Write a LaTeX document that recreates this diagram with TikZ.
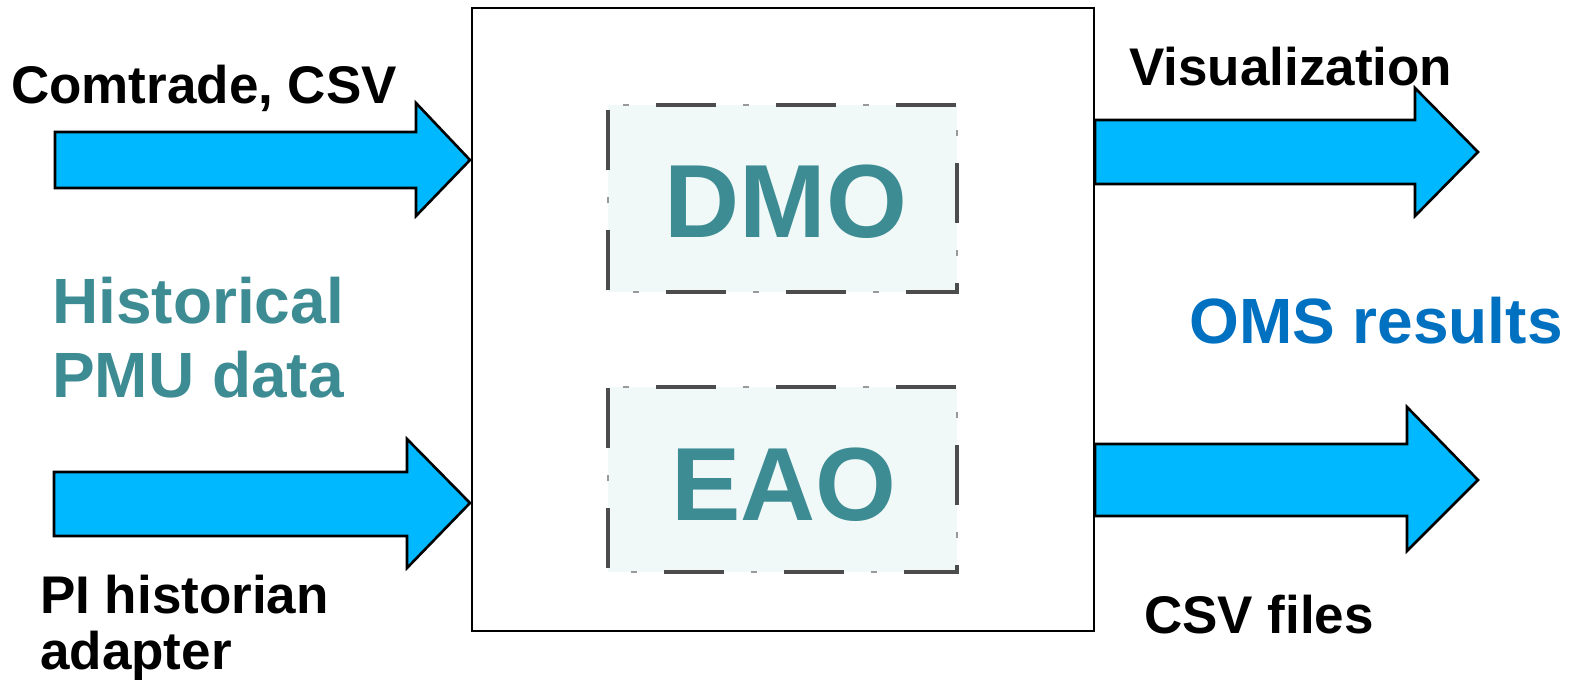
\documentclass[tikz,border=0pt]{standalone}
\usepackage{fontspec}
\setmainfont{Liberation Sans}
\definecolor{arrowblue}{RGB}{0,184,255}
\definecolor{tealtxt}{RGB}{61,140,147}
\definecolor{omsblue}{RGB}{0,112,192}
\definecolor{boxfill}{RGB}{240,248,248}
\tikzset{
  blockarrow/.style={fill=arrowblue, draw=black, line width=2.6pt, line join=miter},
  lbl/.style={anchor=base west, inner sep=0pt, font=\bfseries\fontsize{53}{56}\selectfont},
  bigtxt/.style={anchor=base, inner sep=0pt, text=tealtxt, font=\bfseries\fontsize{104}{110}\selectfont},
  midtxt/.style={anchor=base west, inner sep=0pt, font=\bfseries\fontsize{64}{74}\selectfont},
  algbox/.style={fill=boxfill, draw=none},
  longdash/.style={draw=black!70, line width=4pt, dash pattern=on 60pt off 60pt, dash phase=72pt},
  shortdash/.style={draw=black!40, line width=2pt, dash pattern=on 6pt off 114pt, dash phase=105pt}
}
\begin{document}
\begin{tikzpicture}[x=1pt,y=-1pt]
\useasboundingbox (0,0) rectangle (1575,686);
% main box
\node[draw=black, line width=2pt, minimum width=622pt, minimum height=623pt, inner sep=0pt] (main) at (782.5,319.5) {};
% algorithm boxes
\node[algbox, minimum width=349pt, minimum height=187pt, inner sep=0pt] (dmo) at (782.5,198.5) {};
\node[algbox, minimum width=349pt, minimum height=185pt, inner sep=0pt] (eao) at (782.5,479.5) {};
\foreach \b in {dmo,eao}{
  \draw[longdash] (\b.north west) -- (\b.north east) -- (\b.south east) -- (\b.south west) -- cycle;
  \draw[shortdash] (\b.north west) -- (\b.north east) -- (\b.south east) -- (\b.south west) -- cycle;
}
\node[bigtxt] (dmot) at (786,237) {DMO};
\node[bigtxt] (eaot) at (784,520) {EAO};
% block arrows
\draw[blockarrow] (55,132) -- (416,132) -- (416,103) -- (470,160) -- (416,216) -- (416,188) -- (55,188) -- cycle;
\draw[blockarrow] (54,472) -- (407,472) -- (407,439) -- (470,503) -- (407,568) -- (407,536) -- (54,536) -- cycle;
\draw[blockarrow] (1095,120) -- (1415,120) -- (1415,88) -- (1478,152) -- (1415,216) -- (1415,184) -- (1095,184) -- cycle;
\draw[blockarrow] (1095,444) -- (1407,444) -- (1407,407) -- (1478,480) -- (1407,551) -- (1407,516) -- (1095,516) -- cycle;
% labels
\node[lbl] (comtrade) at (11,103) {Comtrade, CSV};
\node[lbl] (visu) at (1129,85) {Visualization};
\node[lbl] (csvf) at (1144,633) {CSV files};
\node[lbl] (pi) at (40,613) {PI historian};
\node[lbl] (adapter) at (40,669) {adapter};
\node[midtxt, text=tealtxt] (hist) at (52,323) {Historical};
\node[midtxt, text=tealtxt] (pmu) at (52,397) {PMU data};
\node[midtxt, text=omsblue] (oms) at (1189,343) {OMS results};
\end{tikzpicture}
\end{document}
